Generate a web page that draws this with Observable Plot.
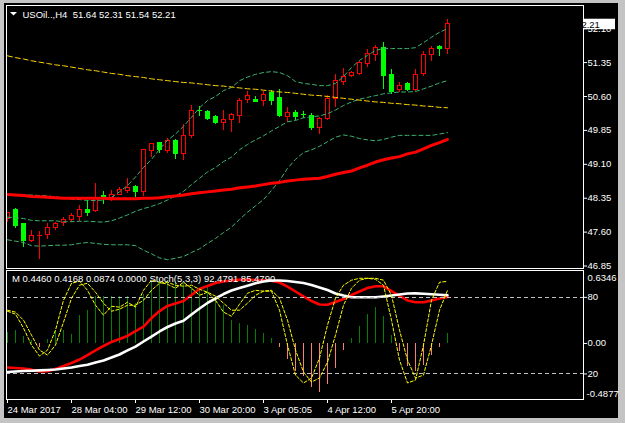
<!DOCTYPE html>
<html>
<head>
<meta charset="utf-8">
<script src="https://cdn.jsdelivr.net/npm/d3@7"></script>
<script src="https://cdn.jsdelivr.net/npm/@observablehq/plot@0.6"></script>
<style>
  html, body { margin:0; padding:0; background:#c0c0c0; }
  #wrap { position:relative; width:625px; height:423px; overflow:hidden; background:#c4c4c4; }
  #inner { position:absolute; left:4px; top:3px; width:614px; height:415px; background:#000; }
  #wrap svg { position:absolute; left:0; }
</style>
</head>
<body>
<div id="wrap"><div id="inner"></div></div>
<script>
// ---- H4 candles (USOil) ----
const open  = [47.89,48.10,47.77,47.41,47.51,47.53,47.69,47.80,47.86,47.93, 48.08,48.06,48.39,48.36,48.43,48.51,48.59,48.48,49.39,49.57, 49.39,49.61,49.33,49.72,50.28,50.25,50.14,50.01,50.08,50.16, 50.53,50.53,50.50,50.67,50.56,50.14,50.23,50.20,50.16,49.90, 50.11,50.55,50.92,51.06,51.09,51.32,51.52,51.68,51.08,50.74, 50.87,50.75,51.09,51.52,51.69,51.64];
const high  = [48.04,48.12,47.78,47.64,47.62,47.78,47.81,47.93,48.02,48.19, 48.30,48.68,48.50,48.52,48.58,48.79,48.63,49.42,49.57,49.59, 49.66,49.64,49.97,50.39,50.38,50.29,50.18,50.29,50.22,50.55, 50.71,50.60,50.70,50.73,50.75,50.36,50.29,50.27,50.22,50.14, 50.62,51.09,51.23,51.15,51.37,51.63,51.73,51.79,51.20,50.92, 50.92,51.20,51.60,51.71,51.73,52.31];
const low   = [47.81,47.68,47.27,47.36,46.99,47.44,47.64,47.73,47.81,47.83, 47.95,48.04,48.20,48.28,48.40,48.46,48.37,48.39,49.24,49.35, 49.33,49.21,49.18,49.68,50.16,50.08,49.98,49.85,49.81,50.00, 50.44,50.47,50.38,50.40,50.13,50.03,50.08,50.11,49.85,49.77, 50.08,50.36,50.84,51.01,51.06,51.25,51.37,50.75,50.64,50.68, 50.71,50.72,51.05,51.37,51.49,51.54];
const close = [48.03,47.73,47.41,47.52,47.52,47.70,47.78,47.87,47.95,48.10, 48.03,48.33,48.38,48.41,48.54,48.57,48.48,49.41,49.54,49.41, 49.61,49.33,49.72,50.29,50.27,50.11,50.01,50.09,50.18,50.51, 50.60,50.47,50.64,50.51,50.16,50.24,50.14,50.19,49.90,50.11, 50.55,50.95,51.04,51.12,51.35,51.54,51.68,51.06,50.71,50.84, 50.75,51.08,51.52,51.66,51.64,52.21];

// ---- main-window indicators ----
const bbUpper  = [48.43,48.43,48.42,48.42,48.41,48.40,48.38,48.35,48.33,48.32, 48.30,48.30,48.31,48.37,48.49,48.63,48.82,49.03,49.21,49.43, 49.63,49.77,49.94,50.14,50.35,50.51,50.60,50.73,50.80,50.95, 51.03,51.09,51.13,51.15,51.13,51.06,50.93,50.89,50.87,50.84, 50.84,50.89,51.04,51.24,51.40,51.51,51.62,51.66,51.66,51.66, 51.66,51.68,51.79,51.91,52.02,52.10];
const bbMiddle = [47.93,47.92,47.90,47.86,47.85,47.85,47.85,47.83,47.83,47.84, 47.84,47.83,47.82,47.85,47.91,47.98,48.06,48.12,48.17,48.23, 48.31,48.40,48.50,48.65,48.79,48.93,49.03,49.16,49.26,49.42, 49.54,49.64,49.73,49.84,49.94,50.04,50.07,50.13,50.15,50.17, 50.22,50.30,50.40,50.48,50.54,50.58,50.62,50.66,50.68,50.70, 50.70,50.71,50.77,50.83,50.90,50.95];
const bbLower  = [47.43,47.40,47.37,47.30,47.29,47.30,47.31,47.31,47.32,47.35, 47.37,47.35,47.33,47.32,47.32,47.32,47.30,47.20,47.12,47.03, 46.99,47.02,47.06,47.15,47.23,47.35,47.46,47.59,47.71,47.88, 48.04,48.18,48.32,48.52,48.74,49.01,49.21,49.36,49.42,49.50, 49.60,49.70,49.75,49.72,49.67,49.64,49.62,49.65,49.70,49.74, 49.74,49.74,49.74,49.74,49.77,49.80];
const maRed    = [48.43,48.42,48.41,48.39,48.38,48.37,48.36,48.35,48.35,48.35, 48.35,48.35,48.35,48.34,48.34,48.34,48.34,48.35,48.35,48.36, 48.38,48.40,48.42,48.45,48.47,48.49,48.51,48.53,48.55,48.58, 48.60,48.62,48.65,48.68,48.70,48.73,48.75,48.77,48.78,48.79, 48.83,48.88,48.92,48.95,49.02,49.08,49.15,49.20,49.24,49.27, 49.33,49.37,49.44,49.52,49.58,49.65];
const maYellow = [51.50,51.46,51.43,51.39,51.36,51.33,51.30,51.28,51.25,51.22, 51.19,51.17,51.14,51.11,51.09,51.06,51.04,51.02,50.99,50.97, 50.95,50.93,50.91,50.90,50.88,50.86,50.84,50.83,50.81,50.79, 50.77,50.76,50.74,50.72,50.70,50.69,50.67,50.65,50.63,50.62, 50.60,50.58,50.56,50.54,50.52,50.50,50.48,50.47,50.45,50.44, 50.42,50.41,50.39,50.38,50.36,50.35];

// ---- sub-window: MACD ----
const macdHist  = [0.096,0.116,0.057,0.029,-0.035,0.037,0.11,0.11,0.08,0.24, 0.29,0.405,0.41,0.41,0.41,0.41,0.348,0.429,0.531,0.559, 0.545,0.531,0.516,0.487,0.472,0.501,0.40,0.327,0.20,0.17, 0.16,0.12,0.085,0.04,-0.035,-0.14,-0.24,-0.29,-0.385,-0.43, -0.355,-0.22,-0.062,0.046,0.15,0.25,0.31,0.237,0.068,-0.073, -0.20,-0.245,-0.19,-0.106,-0.037,0.0874];
const macdRed   = [-0.209,-0.214,-0.218,-0.228,-0.244,-0.242,-0.222,-0.196,-0.170,-0.140, -0.101,-0.061,-0.022,0.013,0.039,0.065,0.108,0.147,0.221,0.282, 0.326,0.348,0.369,0.421,0.474,0.500,0.526,0.539,0.548,0.555, 0.555,0.552,0.549,0.546,0.530,0.495,0.452,0.409,0.369,0.339, 0.337,0.361,0.387,0.421,0.452,0.482,0.497,0.497,0.456,0.413, 0.374,0.358,0.358,0.374,0.391,0.404];
const macdWhite = [-0.248,-0.244,-0.240,-0.237,-0.234,-0.231,-0.227,-0.218,-0.209,-0.196, -0.185,-0.166,-0.148,-0.122,-0.096,-0.061,-0.027,0.017,0.060,0.104, 0.143,0.174,0.198,0.252,0.304,0.352,0.391,0.430,0.461,0.482, 0.502,0.523,0.539,0.548,0.548,0.543,0.535,0.526,0.509,0.487, 0.465,0.435,0.417,0.402,0.402,0.402,0.402,0.409,0.417,0.426, 0.435,0.436,0.432,0.428,0.423,0.419];
const macdMax = 0.6346, macdMin = -0.4877;

// ---- sub-window: Stochastic (5,3,3) ----
const stochK = [69.1,66.8,55.9,42.6,34.0,38.7,54.3,77.7,91.0,92.6, 85.5,73.8,66.0,73.0,72.3,76.2,72.3,85.5,93.4,91.8, 90.2,87.1,91.8,87.1,81.6,84.0,77.7,68.4,65.2,74.6, 83.2,85.5,84.8,84.8,69.9,42.6,19.1,12.9,16.8,32.4, 58.2,79.3,89.5,93.4,94.9,94.9,94.1,89.5,62.1,30.9, 12.9,15.2,42.6,77.7,91.8,92.48];
const stochD = [69.9,68.4,62.1,50.4,38.7,34.8,42.6,60.5,79.3,89.5, 91.0,84.0,75.4,69.1,70.7,73.8,73.8,77.7,85.5,91.0, 91.8,89.5,88.7,89.5,86.3,84.0,80.9,75.4,69.9,69.9, 75.4,81.6,84.8,85.5,79.3,62.1,38.7,21.5,13.7,16.8, 29.3,50.4,73.8,87.1,93.4,94.9,94.9,93.4,81.6,54.3, 30.9,16.8,19.1,42.6,69.9,85.48];
const stochLevels = [80, 20];

// ---- axes / labels ----
const priceTicks = [46.85, 47.60, 48.35, 49.10, 49.85, 50.60, 51.35, 52.10];
const timeTickIdx = [0, 8, 16, 24, 32, 40, 48];
const timeLabels = ["24 Mar 2017", "28 Mar 04:00", "29 Mar 12:00", "30 Mar 20:00", "3 Apr 05:05", "4 Apr 12:00", "5 Apr 20:00"];
const titleText = "USOil..,H4\u00a0 51.64 52.31 51.54 52.21";
const lastPrice = 52.21;
const macdCaption = "M 0.4460 0.4168 0.0874 0.0000";
const stochCaption = "Stoch(5,3,3) 92.4791 85.4790";

// ================= drawing =================
const FONT = '"Liberation Sans", Arial, sans-serif';
const FS = 9.5;
const xDomain = [-0.125, 72];
const idx = d3.range(close.length);
const candles = idx.map(i => ({i, o: open[i], h: high[i], l: low[i], c: close[i], up: close[i] >= open[i]}));
const BULL = "#ff0000", BEAR = "#00ff00";
const baseStyle = {background: "transparent", color: "white", fontFamily: FONT, fontSize: FS + "px", overflow: "visible"};
const wrap = document.getElementById("wrap");

const bandLine = arr => Plot.line(idx, {x: i => i, y: i => arr[i], stroke: "#3cb371", strokeWidth: 1, strokeDasharray: "4,3", clip: true});

const main = Plot.plot({
  width: 625, height: 270,
  marginLeft: 6, marginRight: 42, marginTop: 5, marginBottom: 2,
  style: baseStyle,
  x: {type: "linear", domain: xDomain, axis: null},
  y: {domain: [46.795, 52.613], axis: null},
  color: {type: "identity"},
  marks: [
    Plot.ruleX(candles, {x: "i", y1: "l", y2: "h", stroke: d => d.up ? BULL : BEAR, strokeWidth: 1, clip: true, shapeRendering: "crispEdges"}),
    Plot.rect(candles, {x1: d => d.i - 0.25, x2: d => d.i + 0.25, y1: "o", y2: "c",
      fill: d => d.up ? "#000000" : BEAR, stroke: d => d.up ? BULL : BEAR, strokeWidth: 1, clip: true, shapeRendering: "crispEdges"}),
    bandLine(bbUpper), bandLine(bbMiddle), bandLine(bbLower),
    Plot.line(idx, {x: i => i, y: i => maYellow[i], stroke: "#ffd700", strokeWidth: 1, strokeDasharray: "5,3", clip: true}),
    Plot.line(idx, {x: i => i, y: i => maRed[i], stroke: "#ff0000", strokeWidth: 3, clip: true}),
    Plot.frame({stroke: "white", shapeRendering: "crispEdges"}),
    Plot.axisY({anchor: "right", ticks: priceTicks, tickFormat: d => d.toFixed(2), tickSize: 3, tickPadding: 1, label: null, fontSize: FS}),
    Plot.text([titleText], {frameAnchor: "top-left", dx: 16, dy: 9, textAnchor: "start", lineAnchor: "middle", fill: "white", fontSize: FS})
  ]
});
main.style.top = "0px";
wrap.appendChild(main);
{
  const yy = main.scale("y").apply(lastPrice);
  const g = d3.select(main).append("g");
  g.append("rect").attr("x", 583).attr("y", yy - 4.5).attr("width", 32).attr("height", 10.5).attr("fill", "white");
  g.append("text").attr("x", 588).attr("y", yy + 1).attr("dy", "0.35em").attr("fill", "black")
    .attr("font-family", FONT).attr("font-size", FS).text(lastPrice.toFixed(2));
  g.append("polygon").attr("points", "10,12 17,12 13.5,15.5").attr("fill", "white");
}

const lowerOpts = {width: 625, height: 158, marginLeft: 6, marginRight: 42, marginTop: 5, marginBottom: 24};

const macdPlot = Plot.plot({
  ...lowerOpts,
  style: baseStyle,
  x: {type: "linear", domain: xDomain, axis: null},
  y: {domain: [macdMin, macdMax], axis: null},
  color: {type: "identity"},
  marks: [
    Plot.ruleX(idx, {x: i => i, y1: 0, y2: i => macdHist[i], stroke: i => macdHist[i] >= 0 ? "#008000" : "#fa8072", strokeWidth: 1, shapeRendering: "crispEdges", clip: true}),
    Plot.line(idx, {x: i => i, y: i => macdRed[i], stroke: "#ff0000", strokeWidth: 2.6, clip: true}),
    Plot.line(idx, {x: i => i, y: i => macdWhite[i], stroke: "#ffffff", strokeWidth: 2.6, clip: true}),
    Plot.axisY({anchor: "right", ticks: [0], tickFormat: () => "0.00", tickSize: 3, tickPadding: 1, label: null, fontSize: FS}),
    Plot.text([macdMax], {y: d => d, frameAnchor: "right", dx: 4, dy: 7.5, text: d => d.toFixed(4), textAnchor: "start", fill: "white", fontSize: FS}),
    Plot.text([macdMin], {y: d => d, frameAnchor: "right", dx: 3, dy: -6, text: d => d.toFixed(4), textAnchor: "start", fill: "white", fontSize: FS})
  ]
});
macdPlot.style.top = "265px";
wrap.appendChild(macdPlot);

const stochPlot = Plot.plot({
  ...lowerOpts,
  style: baseStyle,
  x: {type: "linear", domain: xDomain, axis: null},
  y: {domain: [0, 101], axis: null},
  marks: [
    Plot.ruleY(stochLevels, {stroke: "#c0c0c0", strokeWidth: 1, strokeDasharray: "4,3", shapeRendering: "crispEdges"}),
    Plot.line(idx, {x: i => i, y: i => stochD[i], stroke: "#ffff00", strokeWidth: 1, strokeDasharray: "3,2", clip: true}),
    Plot.line(idx, {x: i => i, y: i => stochK[i], stroke: "#ffff00", strokeWidth: 1, strokeDasharray: "3,2", clip: true}),
    Plot.frame({stroke: "white", shapeRendering: "crispEdges"}),
    Plot.axisY({anchor: "right", ticks: stochLevels, tickFormat: d => String(d), tickSize: 3, tickPadding: 1, label: null, fontSize: FS}),
    Plot.axisX({anchor: "bottom", ticks: timeTickIdx, tickFormat: (d, k) => timeLabels[k], tickSize: 4, tickPadding: 3, textAnchor: "start", label: null, fontSize: FS}),
    Plot.text([macdCaption], {frameAnchor: "top-left", dx: 5.5, dy: 8.5, textAnchor: "start", lineAnchor: "middle", fill: "white", fontSize: FS}),
    Plot.text([stochCaption], {frameAnchor: "top-left", dx: 143, dy: 8.5, textAnchor: "start", lineAnchor: "middle", fill: "white", fontSize: FS})
  ]
});
stochPlot.style.top = "265px";
wrap.appendChild(stochPlot);
</script>
</body>
</html>
